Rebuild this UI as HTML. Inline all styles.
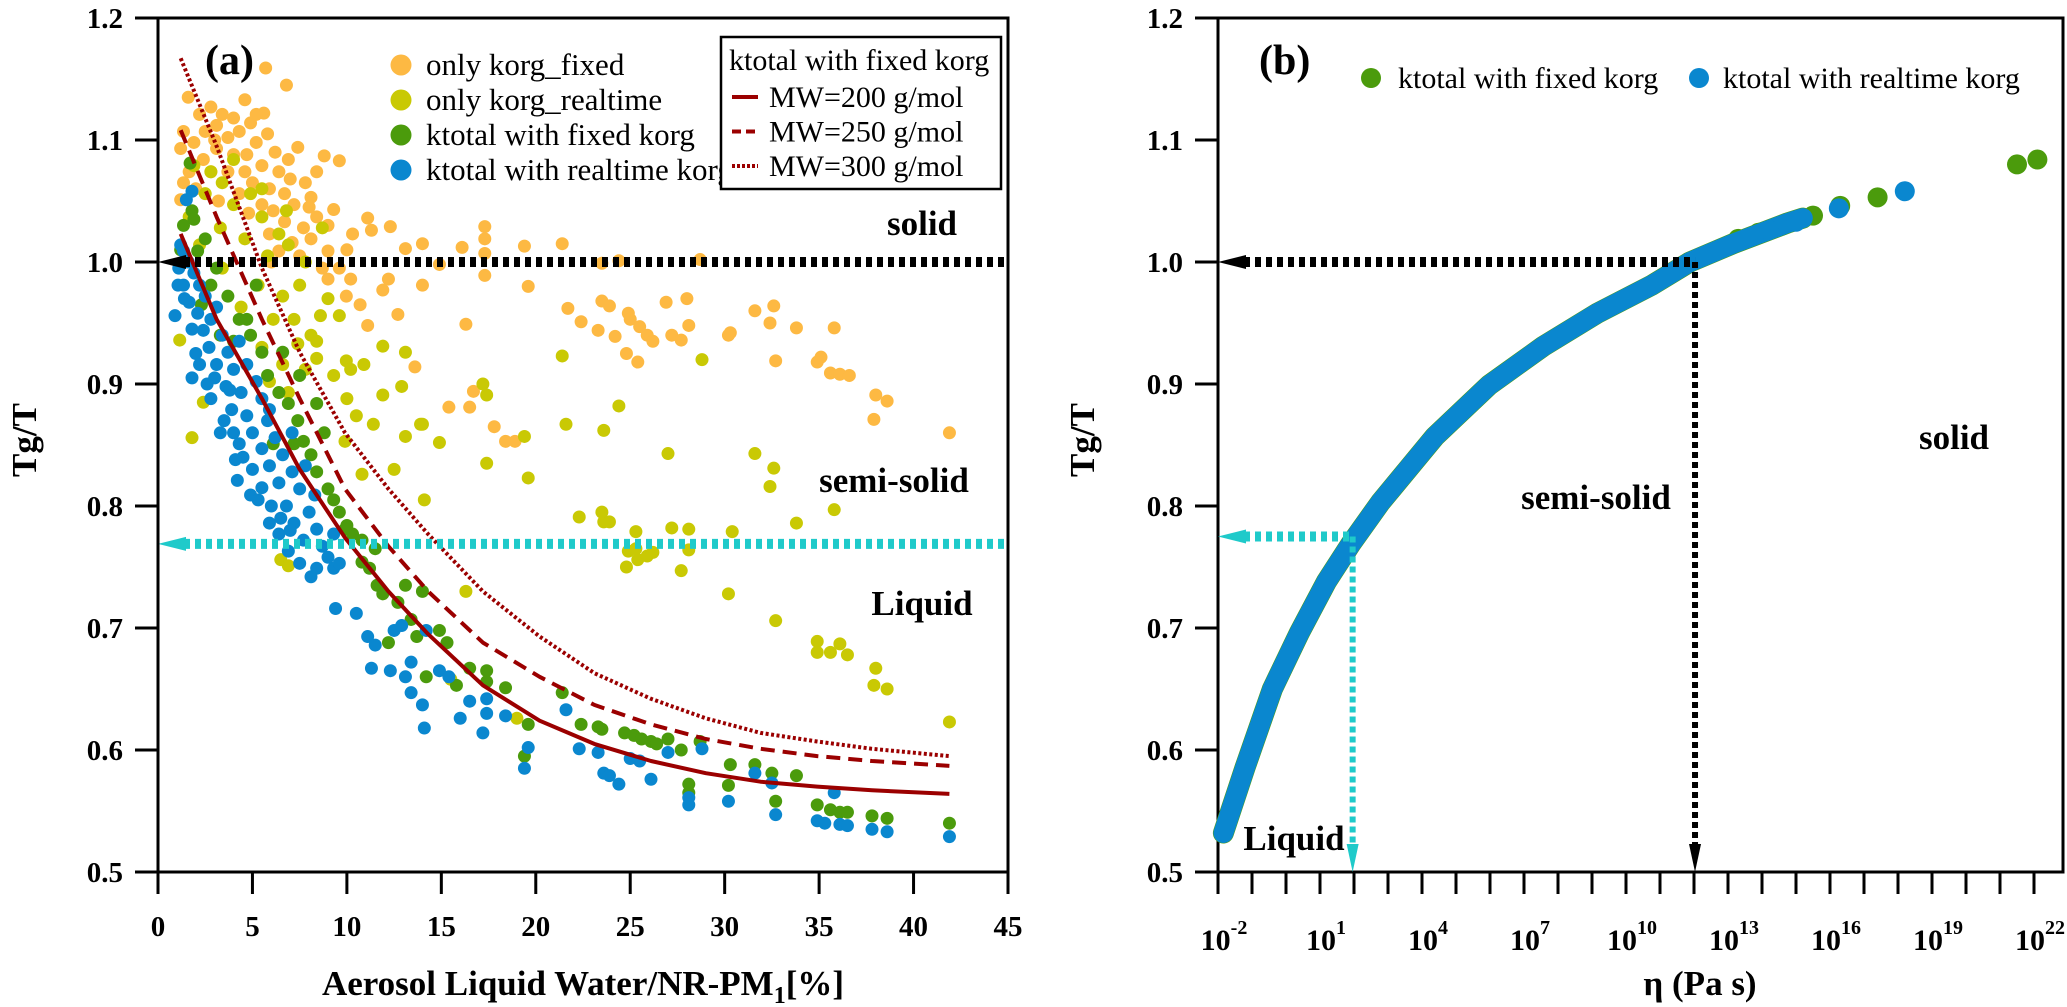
<!DOCTYPE html>
<html><head><meta charset="utf-8"><style>
html,body{margin:0;padding:0;background:#fff;}
svg{display:block;font-family:"Liberation Serif",serif;}
</style></head><body>
<svg id="chart" width="2067" height="1007" viewBox="0 0 2067 1007" xmlns="http://www.w3.org/2000/svg">
<g id="gA"></g>
<g id="gB"></g>
</svg>
<script>
// ---------- Panel (a) data ----------
const xTicksA = [0,5,10,15,20,25,30,35,40,45];
const yTicks = [0.5,0.6,0.7,0.8,0.9,1.0,1.1,1.2];
const yTickLabels = ["0.5","0.6","0.7","0.8","0.9","1.0","1.1","1.2"];
const orangePts = [[5.7,1.159],[6.8,1.145],[4.6,1.133],[2.8,1.127],[5.6,1.122],[7.4,1.094],[8.8,1.087],[9.6,1.083],[8.1,1.053],[9.3,1.043],[11.1,1.036],[12.3,1.029],[11.3,1.026],[10.3,1.023],[13.1,1.011],[14.0,1.015],[16.1,1.012],[17.3,1.029],[17.3,1.019],[17.3,1.007],[19.4,1.013],[21.4,1.015],[17.3,0.989],[19.6,0.980],[14.9,0.998],[14.0,0.981],[12.2,0.986],[11.9,0.977],[10.7,0.965],[11.1,0.948],[12.7,0.957],[9.97,0.972],[9.0,0.986],[23.5,0.999],[24.4,1.001],[28.7,1.002],[21.7,0.962],[23.5,0.968],[23.9,0.964],[24.9,0.958],[25.0,0.953],[25.5,0.947],[25.9,0.940],[26.2,0.935],[26.9,0.967],[28.0,0.970],[28.1,0.948],[27.2,0.940],[27.7,0.936],[22.4,0.951],[23.3,0.944],[24.2,0.939],[24.8,0.925],[25.4,0.918],[16.3,0.949],[30.2,0.940],[30.3,0.942],[31.6,0.960],[32.6,0.964],[32.4,0.950],[33.8,0.946],[35.8,0.946],[32.7,0.919],[34.9,0.918],[35.1,0.922],[35.6,0.909],[36.1,0.908],[36.6,0.907],[38.0,0.891],[38.6,0.886],[37.9,0.871],[41.9,0.860],[13.6,0.914],[16.7,0.894],[16.5,0.881],[15.4,0.881],[17.8,0.865],[18.4,0.853],[18.9,0.853],
[1.35,1.107],[1.9,1.098],[2.5,1.107],[3.1,1.112],[3.7,1.102],[4.3,1.107],[4.9,1.114],[5.2,1.098],[4.7,1.088],[4.0,1.088],[3.1,1.093],[2.4,1.084],[1.65,1.074],[1.35,1.065],[2.8,1.074],[3.7,1.074],[4.6,1.074],[5.5,1.079],[6.4,1.074],[5.9,1.060],[5.0,1.065],[4.3,1.056],[6.7,1.056],[7.2,1.047],[6.1,1.042],[5.5,1.047],[6.7,1.033],[7.7,1.028],[8.4,1.037],[5.9,1.023],[7.1,1.016],[8.1,1.019],[9.0,1.009],[9.6,0.995],[8.7,0.995],[7.5,1.005],[6.4,1.009],[10.2,0.986],[2.2,1.121],[3.4,1.121],[1.2,1.093],[5.2,1.121],[6.9,1.084],[7.8,1.065],[8.4,1.074],[1.2,1.051],[1.6,1.135],[3.0,1.100],[4.0,1.118],[5.8,1.105],[6.2,1.090],[7.0,1.068],[2.0,1.060],[3.2,1.050],[8.0,1.045],[9.0,1.030],[10.0,1.010],[6.0,1.000],[4.8,1.040]];
const yellowPts = [[21.4,0.923],[28.8,0.920],[17.2,0.900],[17.4,0.891],[24.4,0.882],[21.6,0.867],[23.6,0.862],[19.4,0.857],[19.6,0.823],[17.4,0.835],[27.0,0.843],[31.6,0.843],[32.6,0.831],[32.4,0.816],[35.8,0.797],[33.8,0.786],[22.3,0.791],[23.5,0.795],[23.6,0.787],[23.9,0.787],[25.3,0.779],[27.2,0.782],[28.1,0.781],[30.4,0.779],[24.9,0.763],[25.4,0.756],[25.9,0.759],[26.2,0.762],[25.3,0.765],[24.8,0.750],[28.1,0.764],[27.7,0.747],[30.2,0.728],[32.7,0.706],[34.9,0.689],[35.6,0.680],[34.9,0.680],[36.1,0.687],[36.5,0.678],[38.0,0.667],[37.9,0.653],[38.6,0.650],[41.9,0.623],[16.3,0.730],[19.0,0.626],[15.5,0.658],[10.8,0.826],[12.5,0.830],[14.1,0.805],[13.1,0.857],[14.9,0.852],[13.9,0.867],[12.9,0.898],[11.9,0.891],[13.1,0.926],[11.9,0.931],[9.97,0.919],[10.9,0.916],[10.2,0.912],[11.4,0.867],[9.9,0.853],[6.5,0.756],[6.9,0.751],[1.8,0.856],[2.4,0.885],[1.15,0.936],[9.0,0.970],[9.6,0.956],[8.6,0.956],[8.1,0.940],[8.4,0.921],[7.4,0.933],[7.8,0.912],[10.0,0.888],[6.6,0.916],[5.9,0.902],[14.0,0.867],[10.5,0.874],
[1.9,1.079],[2.8,1.074],[3.4,1.065],[2.5,1.056],[4.0,1.047],[4.9,1.056],[5.5,1.037],[6.4,1.023],[4.6,1.019],[3.3,1.028],[5.8,1.005],[6.9,1.014],[7.8,1.0],[5.3,0.981],[6.6,0.972],[4.4,0.963],[6.1,0.953],[7.2,0.953],[3.4,0.995],[2.2,1.014],[1.65,1.037],[4.0,1.084],[5.5,1.060],[6.8,1.042],[8.7,1.028],[7.5,0.981],[8.4,0.935],[9.3,0.907],[6.9,0.893],[5.5,0.930]];
const greenPts = [[1.7,1.081],[1.8,1.042],[1.9,1.035],[1.35,1.030],[2.5,1.019],[2.1,1.009],[3.1,0.995],[2.8,0.981],[3.7,0.972],[4.3,0.953],[4.9,0.940],[5.5,0.926],[5.8,0.907],[6.4,0.893],[6.9,0.884],[7.4,0.870],[7.7,0.853],[8.1,0.842],[8.4,0.828],[9.0,0.814],[9.6,0.795],[10.0,0.784],[10.3,0.777],[10.8,0.754],[11.2,0.749],[11.6,0.735],[11.9,0.728],[12.7,0.721],[13.1,0.735],[14.0,0.730],[12.2,0.688],[13.4,0.707],[13.7,0.693],[14.9,0.698],[15.3,0.688],[14.2,0.660],[15.8,0.653],[16.5,0.667],[17.4,0.665],[17.4,0.656],[18.4,0.651],[19.6,0.621],[19.4,0.595],[21.4,0.647],[22.4,0.621],[23.3,0.619],[23.5,0.617],[24.7,0.614],[25.2,0.612],[25.6,0.609],[26.1,0.607],[26.4,0.605],[27.0,0.609],[27.7,0.600],[28.1,0.572],[28.1,0.565],[28.7,0.607],[30.3,0.588],[30.2,0.571],[31.6,0.588],[32.5,0.581],[32.7,0.558],[33.8,0.579],[34.9,0.555],[35.6,0.551],[36.1,0.549],[36.5,0.549],[37.8,0.546],[38.6,0.544],[41.9,0.540],[10.8,0.772],[9.9,0.781],[9.3,0.805],[7.5,0.907],[8.4,0.884],[6.6,0.926],[5.2,0.981],[4.0,0.935],[4.7,0.953],[6.1,0.851],[7.2,0.851],[1.2,1.010],[2.3,0.965],[3.3,0.940],[8.8,0.860],[11.5,0.765]];
const bluePts = [[1.8,1.058],[1.5,1.051],[1.2,1.014],[1.06,0.981],[0.9,0.956],[1.8,0.905],[4.2,0.821],[4.9,0.809],[5.9,0.786],[6.9,0.763],[7.5,0.753],[8.4,0.749],[8.1,0.742],[9.3,0.749],[9.4,0.716],[10.5,0.712],[11.1,0.693],[11.5,0.686],[11.3,0.667],[12.3,0.665],[13.1,0.660],[13.4,0.672],[12.5,0.698],[12.9,0.702],[14.2,0.698],[14.9,0.665],[15.4,0.660],[13.4,0.647],[14.0,0.637],[14.1,0.618],[16.0,0.626],[16.5,0.640],[17.4,0.642],[17.2,0.614],[17.4,0.630],[18.4,0.628],[19.6,0.602],[19.4,0.585],[21.6,0.633],[22.3,0.601],[23.3,0.598],[23.6,0.581],[23.9,0.579],[24.4,0.572],[25.0,0.593],[25.5,0.591],[26.1,0.576],[27.0,0.598],[28.1,0.561],[28.1,0.555],[28.8,0.601],[30.2,0.558],[31.6,0.581],[32.7,0.547],[32.5,0.573],[34.9,0.542],[35.8,0.565],[35.3,0.540],[36.1,0.539],[36.5,0.538],[37.8,0.535],[38.6,0.533],[41.9,0.529],
[1.35,1.009],[1.6,1.0],[1.9,0.991],[1.35,0.981],[2.2,0.981],[2.5,0.972],[1.65,0.967],[2.1,0.958],[2.8,0.953],[3.1,0.963],[2.4,0.944],[3.4,0.940],[2.7,0.930],[3.7,0.926],[4.3,0.935],[3.1,0.916],[4.0,0.912],[4.7,0.916],[3.6,0.898],[4.4,0.893],[5.2,0.902],[5.5,0.888],[3.9,0.879],[4.7,0.874],[5.8,0.870],[5.0,0.860],[6.2,0.856],[4.3,0.851],[5.5,0.847],[6.6,0.842],[5.9,0.833],[7.1,0.828],[6.4,0.819],[7.5,0.814],[5.3,0.805],[6.8,0.800],[8.0,0.795],[7.2,0.786],[8.4,0.781],[6.4,0.777],[7.7,0.772],[8.7,0.767],[9.0,0.758],[3.3,0.860],[2.8,0.888],[2.2,0.916],[5.9,0.879],[7.1,0.860],[7.8,0.833],[8.3,0.809],[9.3,0.777],[9.6,0.753],[1.1,0.995],[1.4,0.970],[1.8,0.945],[2.0,0.925],[3.0,0.905],[3.5,0.870],[4.0,0.860],[4.5,0.840],[5.0,0.830],[5.5,0.815],[6.0,0.800],[6.5,0.790],[7.0,0.780],[3.8,0.895],[2.6,0.900],[4.1,0.838]];
const curveX = [1.2,3.1,5.5,7.5,9.9,12.2,14.3,17.2,20.2,23.1,26.1,29,31.9,34.9,37.8,41.9];
const mw200Y = [1.023,0.953,0.888,0.830,0.774,0.730,0.695,0.653,0.624,0.605,0.591,0.581,0.574,0.570,0.567,0.564];
const mw250Y = [1.108,1.037,0.953,0.888,0.814,0.767,0.730,0.688,0.660,0.637,0.621,0.609,0.601,0.595,0.591,0.587];
const mw300Y = [1.167,1.095,0.995,0.926,0.860,0.814,0.777,0.730,0.693,0.663,0.642,0.626,0.614,0.607,0.601,0.595];
// ---------- Panel (b) data ----------
const xTicksBExp = [-2,1,4,7,10,13,16,19,22];
const bandLog = [-1.84,-1.2,-0.4,0.39,1.19,1.91,2.78,4.38,5.97,7.57,9.16,10.76,11.88,13.15,14.75,15.2];
const bandY = [0.532,0.586,0.650,0.696,0.738,0.769,0.803,0.857,0.899,0.931,0.958,0.981,1.0,1.015,1.032,1.036];
const greenBLog = [13.3,13.9,14.6,15.5,16.3,17.4,21.5,22.1];
const greenBY = [1.019,1.024,1.030,1.038,1.046,1.053,1.080,1.084];
const blueBLog = [14.2,15.0,16.26,18.2];
const blueBY = [1.026,1.033,1.044,1.058];

const NS = "http://www.w3.org/2000/svg";
const C = {orange:"#FDB943", yellow:"#C9C904", green:"#4B9B0C", blue:"#0A87CF", red:"#9B0000", cyan:"#1FCACA"};
const A = {x0:158, x1:1008, y0:18, y1:872};
const B = {x0:1218, x1:2063};
function xa(v){ return A.x0 + v*(A.x1-A.x0)/45; }
function ya(v){ return A.y1 - (v-0.5)*(A.y1-A.y0)/0.7; }
function xb(l){ return B.x0 + (l+2)*34; }
function mk(parent, tag, attrs, text){
  const e = document.createElementNS(NS, tag);
  for (const k in attrs) e.setAttribute(k, attrs[k]);
  if (text !== undefined) e.textContent = text;
  parent.appendChild(e);
  return e;
}
const gA = document.getElementById('gA');
const gB = document.getElementById('gB');

function drawDots(g, pts, color, r, name){
  const sg = mk(g,'g',{});
  
  
  pts.forEach(p=>{
    const c = mk(sg,'circle',{cx:xa(p[0]), cy:ya(p[1]), r:r, fill:color});
    
    
  });
}
drawDots(gA, orangePts, C.orange, 6.5, 'series-only-korg-fixed');
drawDots(gA, yellowPts, C.yellow, 6.5, 'series-only-korg-realtime');
drawDots(gA, greenPts, C.green, 6.5, 'series-ktotal-fixed-korg');
drawDots(gA, bluePts, C.blue, 6.5, 'series-ktotal-realtime-korg');

function curve(ys, dash, name){
  const d = curveX.map((x,i)=>(i?'L':'M')+xa(x).toFixed(1)+','+ya(ys[i]).toFixed(1)).join(' ');
  const p = mk(gA,'path',{d:d, fill:'none', stroke:C.red, 'stroke-width':4, 'stroke-dasharray':dash, 'stroke-linejoin':'round'});
  
  
}
curve(mw200Y, 'none', 'curve-mw200');
curve(mw250Y, '14 8', 'curve-mw250');
curve(mw300Y, '3 2.5', 'curve-mw300');

function hline(g, x0, x1, y, color, name){
  const l = mk(g,'line',{x1:x0+26, y1:y, x2:x1, y2:y, stroke:color, 'stroke-width':10, 'stroke-dasharray':'6 5'});
  
  
  const a = mk(g,'polygon',{points:`${x0},${y} ${x0+28},${y-7} ${x0+28},${y+7}`, fill:color});
  
  
}
hline(gA, A.x0, A.x1, ya(1.0), '#000', 'solid-threshold-line');
hline(gA, A.x0, A.x1, ya(0.769), C.cyan, 'liquid-threshold-line');

function frame(g, x0, x1, name){
  const r = mk(g,'rect',{x:x0, y:A.y0, width:x1-x0, height:A.y1-A.y0, fill:'none', stroke:'#000', 'stroke-width':3});
  
  
  yTicks.forEach((t,i)=>{
    const y = ya(t);
    mk(g,'line',{x1:x0-23, y1:y, x2:x0, y2:y, stroke:'#000','stroke-width':3});
    const tx = mk(g,'text',{x:x0-35, y:y+10, 'text-anchor':'end', 'font-size':29, 'font-weight':'bold'}, yTickLabels[i]);
    
    
  });
}
frame(gA, A.x0, A.x1, 'plot-frame-a');
xTicksA.forEach(t=>{
  const x = xa(t);
  mk(gA,'line',{x1:x, y1:A.y1, x2:x, y2:A.y1+22, stroke:'#000','stroke-width':3});
  const tx = mk(gA,'text',{x:x, y:936, 'text-anchor':'middle', 'font-size':29, 'font-weight':'bold'}, String(t));
  
  
});
function txt(g, x, y, s, size, weight, anchor, name){
  const t = mk(g,'text',{x:x, y:y, 'font-size':size, 'font-weight':weight, 'text-anchor':anchor||'start'}, s);
  
  
  return t;
}
const xt = txt(gA, 583, 995, 'Aerosol Liquid Water/NR-PM', 35, 'bold', 'middle', 'x-axis-title-a');
mk(xt,'tspan',{'font-size':24, dy:8}, '1');
mk(xt,'tspan',{dy:-8}, '[%]');
const yt = txt(gA, 0, 0, 'Tg/T', 35, 'bold', 'middle', 'y-axis-title-a');
yt.setAttribute('transform','translate(36,440) rotate(-90)');
txt(gA, 205, 74, '(a)', 42, 'bold', 'start', 'panel-label-a');
txt(gA, 922, 235, 'solid', 35, 'bold', 'middle', 'region-label-solid');
txt(gA, 894, 492, 'semi-solid', 35, 'bold', 'middle', 'region-label-semi-solid');
txt(gA, 922, 615, 'Liquid', 35, 'bold', 'middle', 'region-label-liquid');

const legNames = ['only korg_fixed','only korg_realtime','ktotal with fixed korg','ktotal with realtime korg'];
const legColors = [C.orange, C.yellow, C.green, C.blue];
const legA = mk(gA,'g',{});


legNames.forEach((n,i)=>{
  const y = 65 + i*35;
  const c = mk(legA,'circle',{cx:401, cy:y, r:10.5, fill:legColors[i]});
  
  
  const t = mk(legA,'text',{x:426, y:y+10, 'font-size':31}, n);
  
  
});
const legB = mk(gA,'g',{});


mk(legB,'rect',{x:721, y:37, width:280, height:152, fill:'#fff', stroke:'#000', 'stroke-width':2.5});
const lt = mk(legB,'text',{x:729, y:70, 'font-size':30}, 'ktotal with fixed korg');


const mwNames = ['MW=200 g/mol','MW=250 g/mol','MW=300 g/mol'];
const mwDash = ['none','9 5','3 2'];
mwNames.forEach((n,i)=>{
  const y = 97 + i*34.5;
  mk(legB,'line',{x1:732, y1:y, x2:758, y2:y, stroke:C.red, 'stroke-width':4, 'stroke-dasharray':mwDash[i]});
  const t = mk(legB,'text',{x:769, y:y+10, 'font-size':30}, n);
  
  
});

// ---------- Panel (b) ----------
frame(gB, B.x0, B.x1, 'plot-frame-b');
for (let l=-2; l<=22; l++){
  const x = xb(l);
  mk(gB,'line',{x1:x, y1:A.y1, x2:x, y2:A.y1+22, stroke:'#000','stroke-width':3});
}
xTicksBExp.forEach(e=>{
  const t = mk(gB,'text',{x:xb(e)+6, y:950, 'text-anchor':'middle', 'font-size':30, 'font-weight':'bold'}, '10');
  
  
  mk(t,'tspan',{'font-size':20, dy:-16}, String(e));
});
txt(gB, 1700, 995, 'η (Pa s)', 35, 'bold', 'middle', 'x-axis-title-b');
const yt2 = txt(gB, 0, 0, 'Tg/T', 35, 'bold', 'middle', 'y-axis-title-b');
yt2.setAttribute('transform','translate(1094,440) rotate(-90)');
txt(gB, 1259, 74, '(b)', 42, 'bold', 'start', 'panel-label-b');
const lg2 = mk(gB,'g',{});


[[1371,C.green,1398,'ktotal with fixed korg'],[1699,C.blue,1723,'ktotal with realtime korg']].forEach(o=>{
  const c = mk(lg2,'circle',{cx:o[0], cy:78, r:10, fill:o[1]});
  
  
  const t = mk(lg2,'text',{x:o[2], y:88, 'font-size':30}, o[3]);
  
  
});
const bandPath = bandLog.map((l,i)=>(i?'L':'M')+xb(l).toFixed(1)+','+ya(bandY[i]).toFixed(1)).join(' ');
const gBand = mk(gB,'path',{d:bandPath, fill:'none', stroke:C.green, 'stroke-width':21, 'stroke-linecap':'round', 'stroke-linejoin':'round'});


greenBLog.forEach((l,i)=>{
  const c = mk(gB,'circle',{cx:xb(l), cy:ya(greenBY[i]), r:10, fill:C.green});
  
  
});
const bBand = mk(gB,'path',{d:bandPath, fill:'none', stroke:C.blue, 'stroke-width':20, 'stroke-linecap':'round', 'stroke-linejoin':'round'});


blueBLog.forEach((l,i)=>{
  const c = mk(gB,'circle',{cx:xb(l), cy:ya(blueBY[i]), r:10, fill:C.blue});
  
  
});
function hArrowB(logX, v, color, name){
  const y = ya(v);
  const l = mk(gB,'line',{x1:B.x0+26, y1:y, x2:xb(logX), y2:y, stroke:color, 'stroke-width':10, 'stroke-dasharray':'6 5'});
  
  
  mk(gB,'polygon',{points:`${B.x0},${y} ${B.x0+28},${y-7} ${B.x0+28},${y+7}`, fill:color});
}
function vArrowB(logX, v, color, name){
  const x = xb(logX);
  const l = mk(gB,'line',{x1:x, y1:ya(v), x2:x, y2:A.y1-26, stroke:color, 'stroke-width':6, 'stroke-dasharray':'6 4'});
  
  
  mk(gB,'polygon',{points:`${x},${A.y1} ${x-6},${A.y1-28} ${x+6},${A.y1-28}`, fill:color});
}
hArrowB(12.03, 1.0, '#000', 'solid-threshold-h');
vArrowB(12.03, 1.0, '#000', 'solid-threshold-v');
hArrowB(1.9, 0.775, C.cyan, 'liquid-threshold-h');
vArrowB(1.96, 0.775, C.cyan, 'liquid-threshold-v');
txt(gB, 1596, 509, 'semi-solid', 35, 'bold', 'middle', 'region-label-semi-solid-b');
txt(gB, 1954, 449, 'solid', 35, 'bold', 'middle', 'region-label-solid-b');
txt(gB, 1294, 850, 'Liquid', 35, 'bold', 'middle', 'region-label-liquid-b');
</script>
</body></html>
